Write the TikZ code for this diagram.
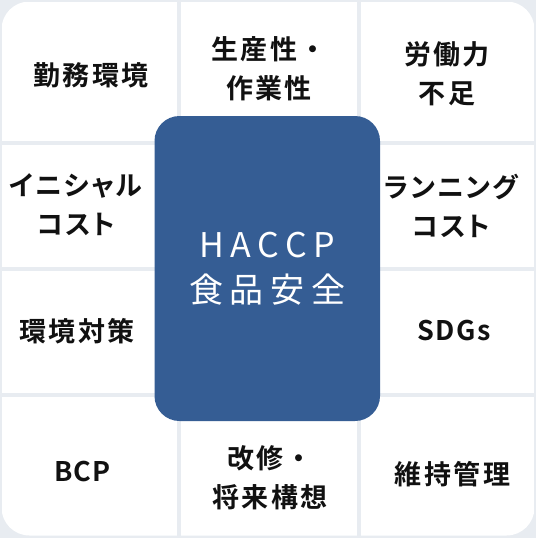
\documentclass[tikz,border=0pt]{standalone}
\usepackage{fontspec}
\newfontfamily\jpbold[LetterSpace=9]{Noto Sans CJK JP Bold}
\newfontfamily\jpkana[LetterSpace=7,RawFeature=+palt]{Noto Sans CJK JP Bold}
\newfontfamily\jplatin[LetterSpace=5]{Noto Sans CJK JP Bold}
\newfontfamily\jpreg[LetterSpace=20]{Noto Sans CJK JP}
\definecolor{gridgray}{HTML}{E8ECF1}
\definecolor{boxblue}{HTML}{355D94}
\definecolor{labelblack}{HTML}{111111}
\begin{document}
\begin{tikzpicture}[x=1pt,y=-1pt,
  lbl/.style={font=\jpbold\fontsize{27}{39}\selectfont, text=labelblack, align=center, inner sep=0pt},
  kanalbl/.style={lbl, font=\jpkana\fontsize{27}{39}\selectfont},
  latinlbl/.style={lbl, font=\jplatin\fontsize{27}{39}\selectfont},
  centerbox/.style={fill=boxblue, rounded corners=25pt, inner sep=0pt, text=white, align=center,
    font=\jpreg\fontsize{34}{45.5}\selectfont}]
\useasboundingbox (0,0) rectangle (536,538);
\fill[gridgray] (0,0) rectangle (536,538);
\begin{scope}
  \clip[rounded corners=28pt] (1.5,1.5) rectangle (534.5,535.5);
  \foreach \xa/\xb in {1.5/177,181/357,361/534.5}
    \foreach \ya/\yb in {1.5/141,145/267,271/393,397/535.5}
      \fill[white] (\xa,\ya) rectangle (\xb,\yb);
\end{scope}
\node[centerbox, minimum width=225.5pt, minimum height=305pt] (core) at (267.25,268.5) {HACCP\\食品安全};
\node[lbl] (l1) at (91,75) {勤務環境};
\node[lbl] (l2) at (269,68.5) {生産性・\\作業性};
\node[lbl] (l3) at (447,74) {労働力\\不足};
\node[kanalbl] (l4) at (76,205) {イニシャル\\コスト};
\node[kanalbl] (l5) at (451,206) {ランニング\\コスト};
\node[lbl] (l6) at (77,331) {環境対策};
\node[latinlbl] (l7) at (454,331) {SDGs};
\node[latinlbl] (l8) at (82.5,472) {BCP};
\node[lbl] (l9) at (270,477.5) {改修・\\将来構想};
\node[lbl] (l10) at (452.5,474.5) {維持管理};
\end{tikzpicture}
\end{document}
